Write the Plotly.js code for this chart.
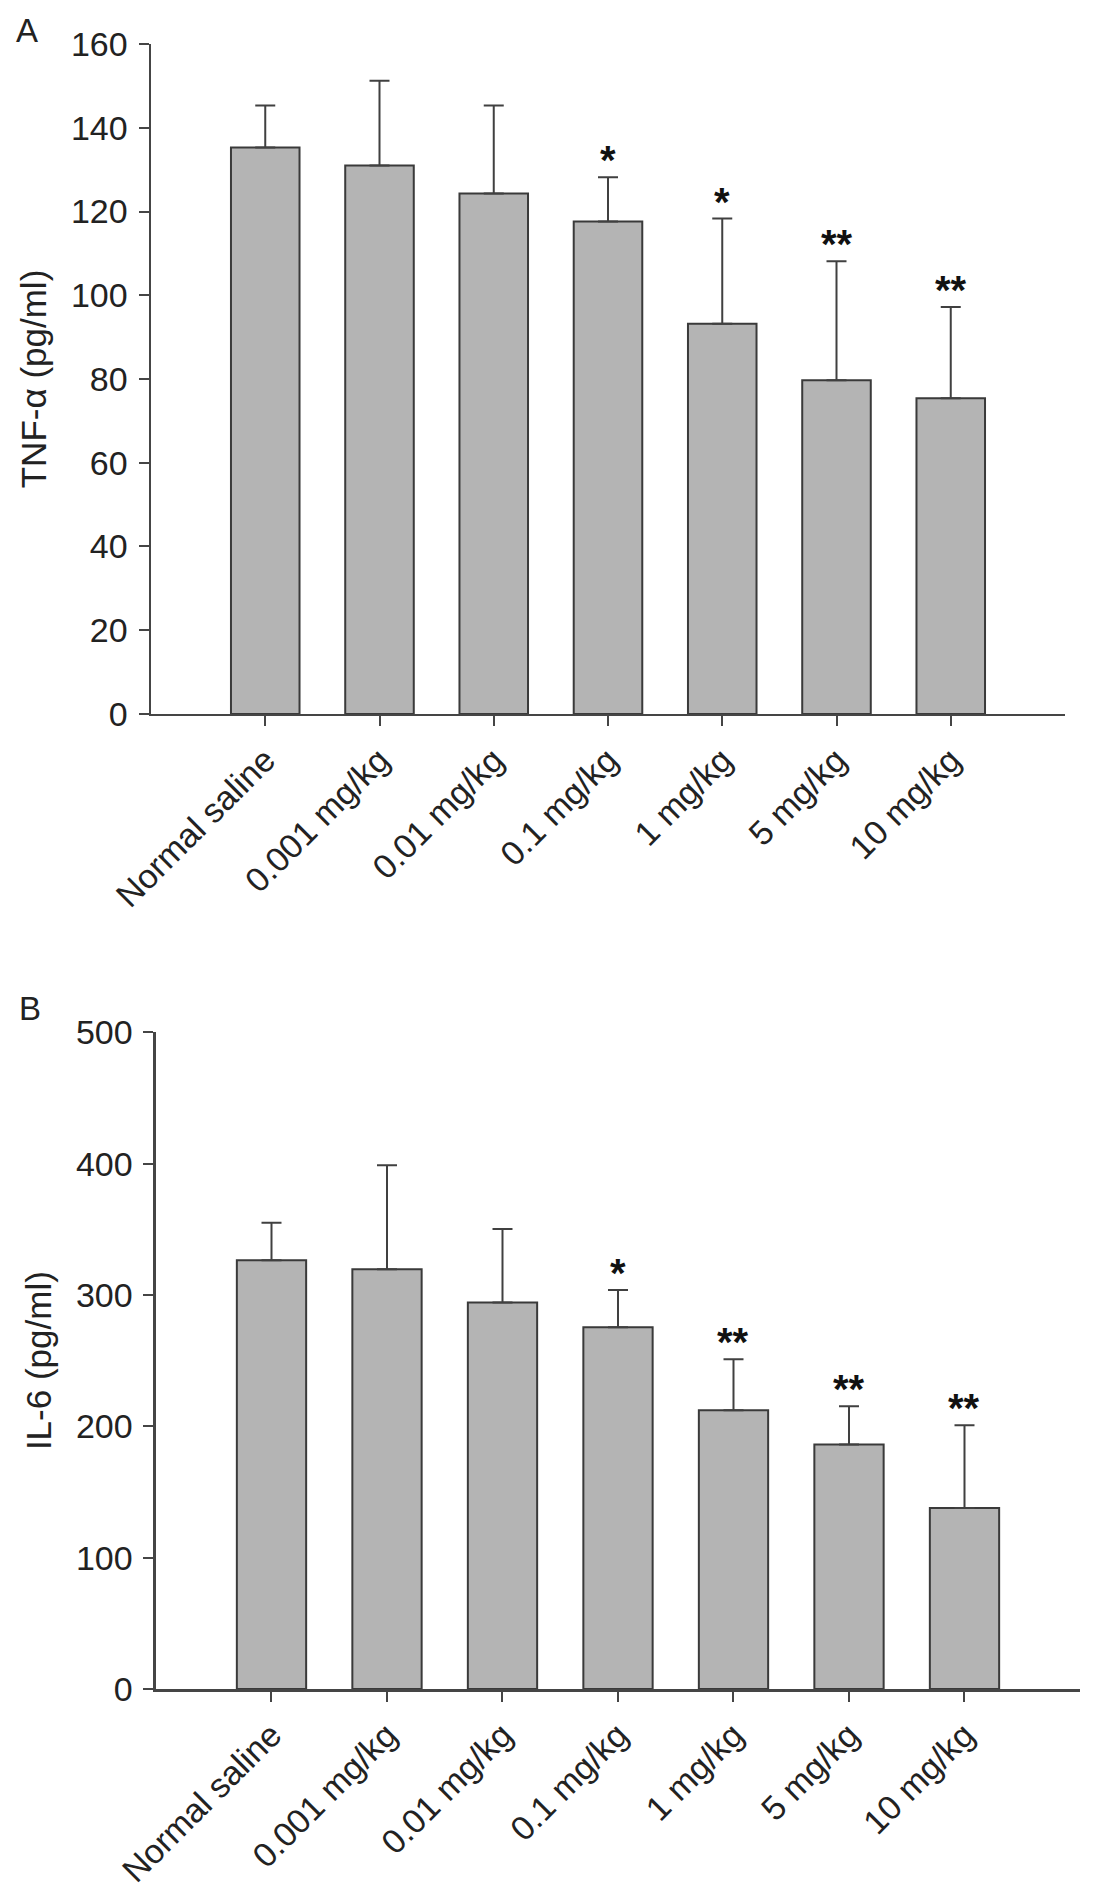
<!DOCTYPE html>
<html>
<head>
<meta charset="utf-8">
<script src="https://cdn.plot.ly/plotly-3.0.1.min.js"></script>
<style>html,body{margin:0;padding:0;background:#fff;}#chart{width:1098px;height:1897px;}</style>
</head>
<body>
<div id="chart"></div>
<script>
// ---- data ----
const categories = ['Normal saline', '0.001 mg/kg', '0.01 mg/kg', '0.1 mg/kg', '1 mg/kg', '5 mg/kg', '10 mg/kg'];
const tnfMean = [135.3, 131.0, 124.3, 117.6, 93.2, 79.7, 75.4];
const tnfSD   = [10.0, 20.2, 21.0, 10.6, 25.1, 28.4, 21.8];
const tnfSig  = ['', '', '', '*', '*', '**', '**'];
const il6Mean = [326.5, 319.6, 294.3, 275.5, 212.2, 186.1, 137.8];
const il6SD   = [28.4, 79.1, 56.0, 28.2, 38.8, 29.1, 63.0];
const il6Sig  = ['', '', '', '*', '**', '**', '**'];
const tnfTicks = [0, 20, 40, 60, 80, 100, 120, 140, 160];
const il6Ticks = [0, 100, 200, 300, 400, 500];

const FONT = 'Liberation Sans, Arial, Helvetica, sans-serif';
const TXT = '#222222';
const LINE = '#454545';
const zeros = categories.map(() => 0);

function barTrace(means, sds, xa, ya) {
  return {
    type: 'bar', x: categories, y: means, xaxis: xa, yaxis: ya,
    width: 0.6,
    marker: {color: '#b4b4b4', line: {color: '#3a3a3a', width: 2}},
    error_y: {type: 'data', symmetric: false, array: sds, arrayminus: zeros,
              color: '#404040', thickness: 2, width: 10},
    showlegend: false, hoverinfo: 'x+y'
  };
}

function sigAnn(sig, means, sds, xr, yr) {
  const out = [];
  sig.forEach((s, i) => {
    if (!s) return;
    out.push({x: categories[i], y: means[i] + sds[i], xref: xr, yref: yr,
      text: s, showarrow: false, yanchor: 'bottom', yshift: -7,
      font: {family: FONT, size: 40, color: '#111', weight: 'bold'}});
  });
  return out;
}

function xAxis(domain, anchor) {
  return {domain: domain, anchor: anchor, type: 'category', range: [-1, 7],
    showline: true, linecolor: LINE, linewidth: 2.5, ticks: 'outside', ticklen: 10,
    tickwidth: 2, tickcolor: LINE, tickangle: -45, showgrid: false, zeroline: false,
    tickfont: {family: FONT, size: 34, color: TXT}, fixedrange: true};
}
function yAxis(domain, anchor, range, ticks, title) {
  return {domain: domain, anchor: anchor, range: range, tickvals: ticks,
    showline: true, linecolor: LINE, linewidth: 2.5, ticks: 'outside', ticklen: 10,
    tickwidth: 2, tickcolor: LINE, showgrid: false, zeroline: false,
    ticklabelstandoff: 4,
    tickfont: {family: FONT, size: 34, color: TXT},
    title: {text: title, font: {family: FONT, size: 35, color: TXT}, standoff: 14},
    fixedrange: true};
}

const data = [
  barTrace(tnfMean, tnfSD, 'x', 'y'),
  barTrace(il6Mean, il6SD, 'x2', 'y2')
];

const layout = {
  width: 1098, height: 1897,
  margin: {l: 151, r: 18, t: 44, b: 208},
  paper_bgcolor: '#ffffff', plot_bgcolor: '#ffffff',
  font: {family: FONT, color: TXT},
  xaxis: xAxis([0, 0.98385], 'y'),
  yaxis: yAxis([0.59271, 1], 'x', [0, 160], tnfTicks, 'TNF-α (pg/ml)'),
  xaxis2: xAxis([0.00538, 1], 'y2'),
  yaxis2: yAxis([0, 0.39921], 'x2', [0, 500], il6Ticks, 'IL-6 (pg/ml)'),
  annotations: [
    {text: 'A', xref: 'paper', yref: 'paper', x: -0.147, y: 1.0206, xanchor: 'left', yanchor: 'top',
     showarrow: false, font: {family: FONT, size: 33, color: TXT}},
    {text: 'B', xref: 'paper', yref: 'paper', x: -0.144, y: 0.4261, xanchor: 'left', yanchor: 'top',
     showarrow: false, font: {family: FONT, size: 33, color: TXT}}
  ].concat(sigAnn(tnfSig, tnfMean, tnfSD, 'x', 'y'), sigAnn(il6Sig, il6Mean, il6SD, 'x2', 'y2'))
};

Plotly.newPlot('chart', data, layout, {displayModeBar: false, staticPlot: true});
</script>
</body>
</html>
